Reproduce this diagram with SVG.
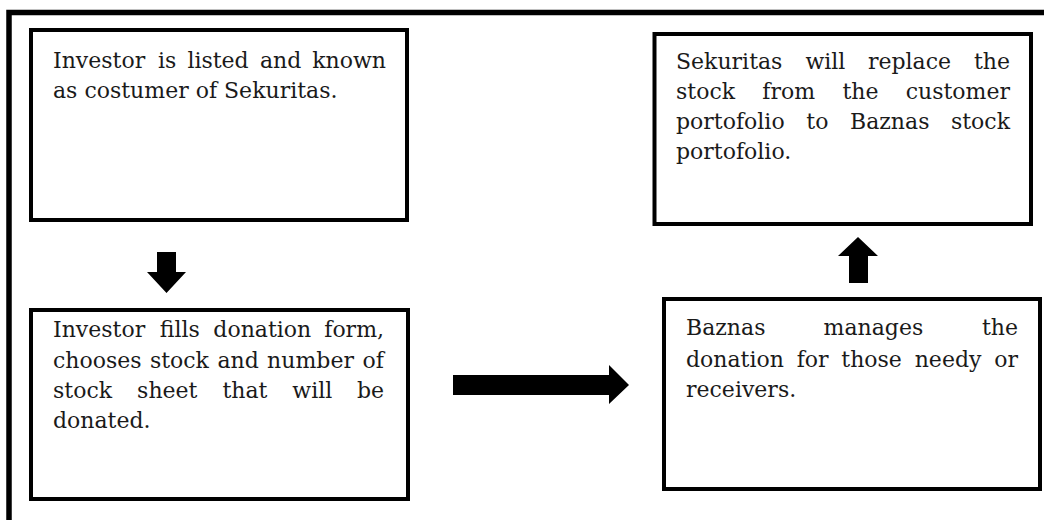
<svg xmlns="http://www.w3.org/2000/svg" width="1044" height="520" viewBox="0 0 1044 520">
<style>
.box{fill:#fff;stroke:#000;stroke-width:4}
.t{font-family:"DejaVu Serif","Liberation Serif",serif;font-size:22px;fill:#1a1a1a}
.arr{fill:#000}
</style>
<rect width="1044" height="520" fill="#fff"/>
<g id="frame"><path d="M9,520 V12.5 H1044" fill="none" stroke="#000" stroke-width="5.5"/></g>
<g id="node1">
<rect class="box" x="31" y="30" width="376" height="190"/>
<text class="t" y="68"><tspan x="53">Investor</tspan><tspan x="158">is</tspan><tspan x="187.4">listed</tspan><tspan x="259.9">and</tspan><tspan x="386" text-anchor="end">known</tspan></text>
<text class="t" x="53" y="98">as costumer of Sekuritas.</text>
</g>
<g id="node2">
<rect class="box" x="31" y="310" width="377" height="189"/>
<text class="t" y="337"><tspan x="53">Investor</tspan><tspan x="159.8">fills</tspan><tspan x="213.3">donation</tspan><tspan x="384" text-anchor="end">form,</tspan></text>
<text class="t" y="367.5"><tspan x="53">chooses</tspan><tspan x="149.9">stock</tspan><tspan x="217.4">and</tspan><tspan x="267.1">number</tspan><tspan x="384" text-anchor="end">of</tspan></text>
<text class="t" y="398"><tspan x="53">stock</tspan><tspan x="137.1">sheet</tspan><tspan x="222.4">that</tspan><tspan x="292.3">will</tspan><tspan x="384" text-anchor="end">be</tspan></text>
<text class="t" x="53" y="428">donated.</text>
</g>
<g id="node3">
<rect class="box" x="654.5" y="34" width="376.5" height="190"/>
<text class="t" y="69"><tspan x="676">Sekuritas</tspan><tspan x="805.4">will</tspan><tspan x="867.9">replace</tspan><tspan x="1010" text-anchor="end">the</tspan></text>
<text class="t" y="99"><tspan x="676">stock</tspan><tspan x="762.3">from</tspan><tspan x="842.4">the</tspan><tspan x="1010" text-anchor="end">customer</tspan></text>
<text class="t" y="129"><tspan x="676">portofolio</tspan><tspan x="806.3">to</tspan><tspan x="850">Baznas</tspan><tspan x="1010" text-anchor="end">stock</tspan></text>
<text class="t" x="676" y="159">portofolio.</text>
</g>
<g id="node4">
<rect class="box" x="664" y="299" width="376" height="190"/>
<text class="t" y="335"><tspan x="686">Baznas</tspan><tspan x="823.6">manages</tspan><tspan x="1018" text-anchor="end">the</tspan></text>
<text class="t" y="366.5"><tspan x="686">donation</tspan><tspan x="796.7">for</tspan><tspan x="841.3">those</tspan><tspan x="914.7">needy</tspan><tspan x="1018" text-anchor="end">or</tspan></text>
<text class="t" x="686" y="396.5">receivers.</text>
</g>
<g id="connectors">
<polygon class="arr" points="157,252 176,252 176,272 186,272 166.5,293 147,272 157,272"/>
<polygon class="arr" points="453,375 609,375 609,365 629,385 609,404 609,395 453,395"/>
<polygon class="arr" points="849,283 849,256 838,256 858,237 878,256 868,256 868,283"/>
</g>
</svg>
